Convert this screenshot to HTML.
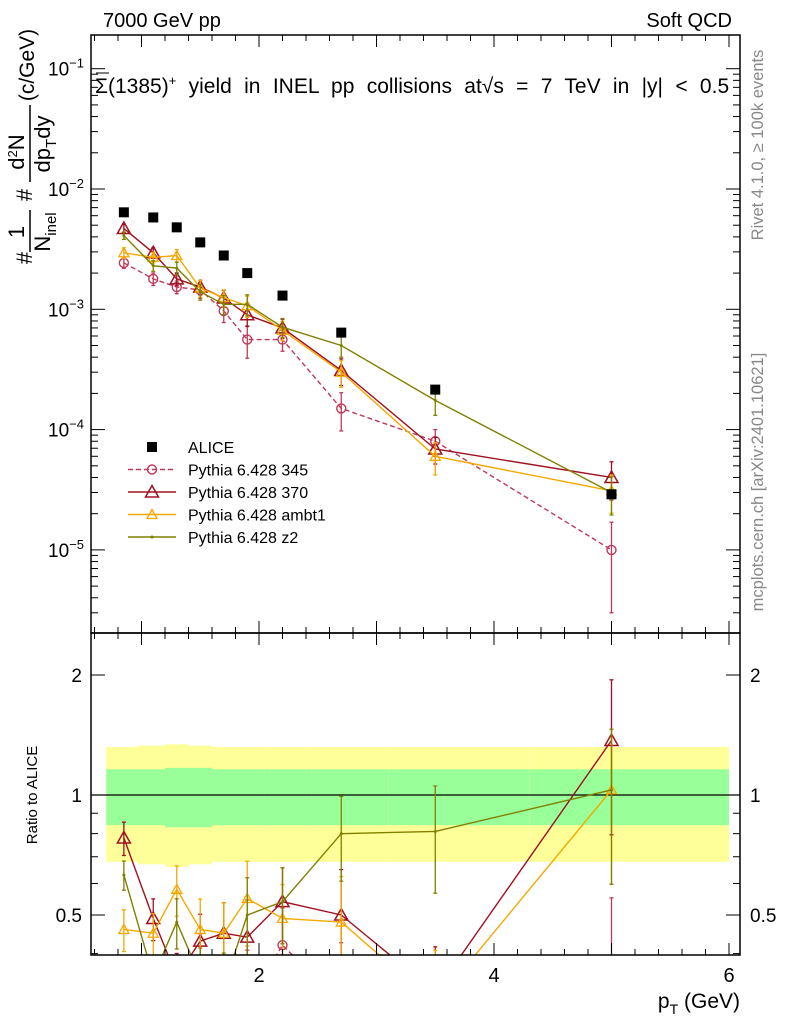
<!DOCTYPE html>
<html><head><meta charset="utf-8"><style>
html,body{margin:0;background:#fff;overflow:hidden;width:786px;height:1024px;}
svg{display:block;font-family:"Liberation Sans",sans-serif;}
</style></head><body>
<svg id="c" width="786" height="1024" xmlns="http://www.w3.org/2000/svg"></svg>
<script>
const pt=[0.85,1.1,1.3,1.5,1.7,1.9,2.2,2.7,3.5,5.0];
const alice=[6.4e-3,5.8e-3,4.8e-3,3.6e-3,2.8e-3,2.0e-3,1.3e-3,6.4e-4,2.15e-4,2.9e-5];
const p345=[2.43e-3,1.79e-3,1.53e-3,1.45e-3,9.7e-4,5.6e-4,5.6e-4,1.5e-4,8.0e-5,1.0e-5];
const p370=[4.7e-3,2.95e-3,1.79e-3,1.53e-3,1.24e-3,9e-4,7e-4,3.1e-4,6.9e-5,4.0e-5];
const pambt1=[2.95e-3,2.7e-3,2.8e-3,1.5e-3,1.25e-3,1.07e-3,6.7e-4,3.0e-4,6e-5,3.1e-5];
const pz2=[4.1e-3,2.3e-3,2.2e-3,1.4e-3,1.1e-3,1.1e-3,7.1e-4,5.0e-4,1.75e-4,3.0e-5];
const err345=[0.1,0.12,0.12,0.15,0.2,0.3,0.2,0.35,0.25,0.7];
const err370=[0.08,0.1,0.12,0.14,0.16,0.2,0.18,0.25,0.25,0.35];
const errAmbt1=[0.1,0.1,0.12,0.16,0.16,0.2,0.18,0.25,0.3,0.35];
const errZ2=[0.07,0.1,0.12,0.15,0.18,0.2,0.18,0.2,0.25,0.35];
const r345=[0.3,0.3,0.3,0.38,0.3,0.3,0.42,0.3,0.3,0.3];
const r370=[0.78,0.49,0.35,0.43,0.45,0.44,0.54,0.50,0.32,1.37];
const rAmbt1=[0.46,0.45,0.58,0.46,0.45,0.55,0.49,0.48,0.3,1.03];
const rZ2=[0.63,0.35,0.48,0.35,0.33,0.50,0.54,0.80,0.81,1.03];
const bandIn=[0.16,0.16,0.17,0.17,0.16,0.16,0.16,0.16,0.16,0.16];
const bandOut=[0.32,0.33,0.34,0.33,0.32,0.32,0.32,0.32,0.32,0.32];
const xTicks=[2,4,6];
const yTicks=[-1,-2,-3,-4,-5];
const rTicks=[0.5,1,2];

const NS="http://www.w3.org/2000/svg";
const svg=document.getElementById('c');
const L=91,R=740,T=35,M=633,B=955;
const X=v=>24+117.5*v;
const Y=v=>189-120.3*(Math.log10(v)+2);
const RY=v=>795-120*Math.log2(v);
function el(tag,at,parent){const e=document.createElementNS(NS,tag);for(const k in at)e.setAttribute(k,at[k]);(parent||svg).appendChild(e);return e;}
function txt(s,x,y,sz,anchor,fill,parent){const t=el('text',{x:x,y:y,'font-size':sz,'text-anchor':anchor||'start',fill:fill||'#000'},parent);t.textContent=s;return t;}

const defs=el('defs',{});
const c1=el('clipPath',{id:'cm'},defs);el('rect',{x:L,y:T,width:R-L,height:M-T},c1);
const c2=el('clipPath',{id:'cr'},defs);el('rect',{x:L,y:M,width:R-L,height:B-M},c2);

const gR=el('g',{'clip-path':'url(#cr)'});


const edges=[0.7,0.97,1.2,1.4,1.6,1.8,2.05,2.45,3.1,4.3,6.0];
for(let i=0;i<pt.length;i++){
  const x0=X(edges[i]),x1=X(edges[i+1]);
  const y=el('rect',{x:x0,y:RY(1+bandOut[i]),width:x1-x0,height:RY(1-bandOut[i])-RY(1+bandOut[i]),fill:'#ffff99'},gR);
  
  
  const g=el('rect',{x:x0,y:RY(1+bandIn[i]),width:x1-x0,height:RY(1-bandIn[i])-RY(1+bandIn[i]),fill:'#99ff99'},gR);
  
  
}
el('line',{x1:L,x2:R,y1:RY(1),y2:RY(1),stroke:'#000','stroke-width':1.2},gR);

const series=[
 {name:'pythia-345',v:p345,e:err345,r:r345,col:'#c0395a',dash:'5,3',mk:'circle'},
 {name:'pythia-370',v:p370,e:err370,r:r370,col:'#a01020',dash:'',mk:'tri'},
 {name:'pythia-ambt1',v:pambt1,e:errAmbt1,r:rAmbt1,col:'#f5a800',dash:'',mk:'tris'},
 {name:'pythia-z2',v:pz2,e:errZ2,r:rZ2,col:'#808000',dash:'',mk:'dot'}
];
function marker(kind,x,y,col,g){
  if(kind==='circle')return el('circle',{cx:x,cy:y,r:4.5,fill:'none',stroke:col,'stroke-width':1.4},g);
  if(kind==='tri')return el('path',{d:`M${x},${y-6.5}L${x+6.5},${y+5}L${x-6.5},${y+5}Z`,fill:'none',stroke:col,'stroke-width':1.5},g);
  if(kind==='tris')return el('path',{d:`M${x},${y-5}L${x+5},${y+4}L${x-5},${y+4}Z`,fill:'none',stroke:col,'stroke-width':1.3},g);
  return el('circle',{cx:x,cy:y,r:1.5,fill:col},g);
}
function drawSeries(s,vals,errs,Yf,g){
  const pts=pt.map((p,i)=>X(p)+','+Yf(vals[i])).join(' ');
  const pl=el('polyline',{points:pts,fill:'none',stroke:s.col,'stroke-width':1.4,'stroke-dasharray':s.dash},g);
  
  
  pt.forEach((p,i)=>{
    const x=X(p),hi=Yf(vals[i]*(1+errs[i])),lo=Yf(Math.max(vals[i]*(1-errs[i]),1e-9));
    el('line',{x1:x,x2:x,y1:hi,y2:lo,stroke:s.col,'stroke-width':1.3},g);
    el('line',{x1:x-2,x2:x+2,y1:hi,y2:hi,stroke:s.col,'stroke-width':1.3},g);
    el('line',{x1:x-2,x2:x+2,y1:lo,y2:lo,stroke:s.col,'stroke-width':1.3},g);
    const m=marker(s.mk,x,Yf(vals[i]),s.col,g);
    
    
  });
}
series.forEach(s=>drawSeries(s,s.r,s.e.map(e=>e*1.2),RY,gR));

const gM=el('g',{'clip-path':'url(#cm)'});


series.forEach(s=>drawSeries(s,s.v,s.e,Y,gM));
pt.forEach((p,i)=>{
  const r=el('rect',{x:X(p)-5,y:Y(alice[i])-5,width:10,height:10,fill:'#000'},gM);
  
  
});

el('rect',{x:L,y:T,width:R-L,height:M-T,fill:'none',stroke:'#000','stroke-width':1.5});
el('rect',{x:L,y:M,width:R-L,height:B-M,fill:'none',stroke:'#000','stroke-width':1.5});

for(let v=0.6;v<=6.05;v+=0.2){
  const x=X(v);if(x<L||x>R)continue;
  const major=Math.abs(v-Math.round(v))<0.01;const len=major?12:6;
  [[M,M-len],[T,T+len],[B,B-len],[M,M+len]].forEach(([a,b])=>el('line',{x1:x,x2:x,y1:a,y2:b,stroke:'#000','stroke-width':1}));
}
xTicks.forEach(v=>{const t=txt(String(v),X(v),982,20,'middle');});
for(let d=-6;d<=-1;d++){for(let k=1;k<10;k++){const v=k*Math.pow(10,d);const y=Y(v);if(y<T||y>M)continue;const len=k===1?14:7;
 el('line',{x1:L,x2:L+len,y1:y,y2:y,stroke:'#000'});el('line',{x1:R,x2:R-len,y1:y,y2:y,stroke:'#000'});}}
yTicks.forEach(d=>{const t=el('text',{x:84,y:Y(Math.pow(10,d))+7,'font-size':19,'text-anchor':'end'});t.innerHTML='10<tspan dy="-8" font-size="13">'+(d===-1?'−1':'−'+(-d))+'</tspan>';});
[0.4,0.5,0.6,0.7,0.8,0.9,1,2].forEach(v=>{const y=RY(v);const len=(v===0.5||v===1||v===2)?14:7;el('line',{x1:L,x2:L+len,y1:y,y2:y,stroke:'#000'});el('line',{x1:R,x2:R-len,y1:y,y2:y,stroke:'#000'});});
rTicks.forEach(v=>{const a=txt(String(v),82,RY(v)+7,19,'end');
 const b=txt(String(v),750,RY(v)+7,19,'start');});

let t;
t=txt('7000 GeV pp',103,27,20);
t=txt('Soft QCD',732,27,20,'end');
t=el('text',{x:95,y:93,'font-size':21,'word-spacing':'6.5'});t.innerHTML='Σ(1385)<tspan dy="-8" font-size="13">+</tspan><tspan dy="8">  yield in INEL pp collisions at√s = 7 TeV in |y| &lt; 0.5</tspan>';

el('line',{x1:96,x2:109,y1:73,y2:73,stroke:'#000'});

const yt=el('g',{transform:'translate(0,0)'});


function rt(s,x,y,sz,anchor){const e=el('text',{x:0,y:0,'font-size':sz,'text-anchor':anchor||'middle',transform:`translate(${x},${y}) rotate(-90)`},yt);e.innerHTML=s;return e;}
rt('#',32,258,22);
rt('1',24,232,22);
el('line',{x1:30,x2:30,y1:210,y2:252,stroke:'#000','stroke-width':1.5},yt);
rt('N<tspan dy="6" font-size="15">inel</tspan>',50,232,22);
rt('#',32,195,22);
rt('d<tspan dy="-7" font-size="13">2</tspan><tspan dy="7">N</tspan>',24,152,22);
el('line',{x1:30,x2:30,y1:105,y2:182,stroke:'#000','stroke-width':1.5},yt);
rt('dp<tspan dy="6" font-size="15">T</tspan><tspan dy="-6">dy</tspan>',50,144,22);
rt('(c/GeV)',34,65,21);

t=el('text',{x:0,y:0,'font-size':15,'text-anchor':'middle',transform:'translate(37,795) rotate(-90)'});t.textContent='Ratio to ALICE';

t=el('text',{x:740,y:1008,'font-size':21,'text-anchor':'end'});t.innerHTML='p<tspan dy="6" font-size="14">T</tspan><tspan dy="-6"> (GeV)</tspan>';

t=el('text',{x:0,y:0,'font-size':16.5,fill:'#888','text-anchor':'middle',transform:'translate(763,145) rotate(-90)'});t.textContent='Rivet 4.1.0, ≥ 100k events';

t=el('text',{x:0,y:0,'font-size':16.5,fill:'#888','text-anchor':'middle',transform:'translate(763,482) rotate(-90)'});t.textContent='mcplots.cern.ch [arXiv:2401.10621]';


const legNames=['ALICE','Pythia 6.428 345','Pythia 6.428 370','Pythia 6.428 ambt1','Pythia 6.428 z2'];
legNames.forEach((n,i)=>{
  const y=447+i*22.5;const g=el('g',{});
  
  
  if(i===0){el('rect',{x:147,y:y-5,width:10,height:10,fill:'#000'},g);}
  else{const s=series[i-1];el('line',{x1:128,x2:176,y1:y,y2:y,stroke:s.col,'stroke-width':1.4,'stroke-dasharray':s.dash},g);marker(s.mk,152,y,s.col,g);}
  txt(n,188,y+6,16,'start','#000',g);
});
</script>
</body></html>
